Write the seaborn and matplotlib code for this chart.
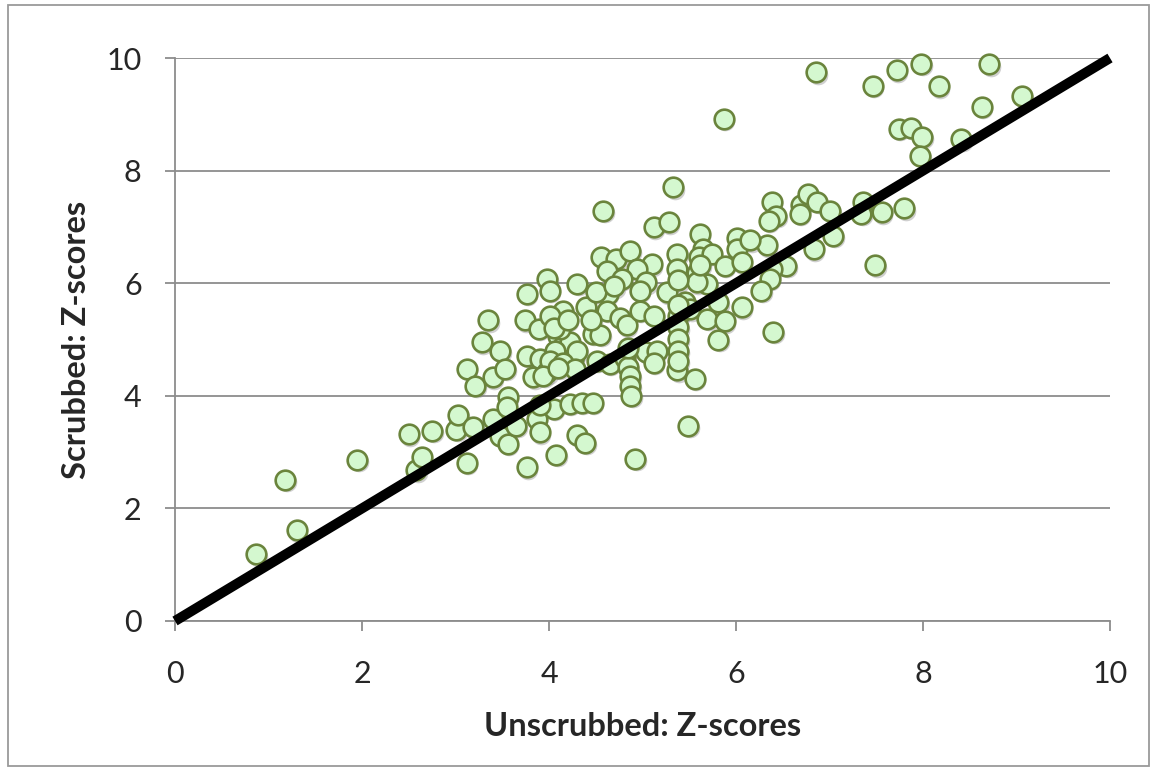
import matplotlib
matplotlib.use("Agg")
import matplotlib.pyplot as plt
import matplotlib.transforms as mtransforms
from matplotlib.patches import Rectangle
import seaborn as sns
import pandas as pd

# --- data ---
unscrubbed = [
    0.87, 1.18, 1.30, 1.95, 2.50, 2.58, 2.64, 2.75, 3.01, 3.03, 3.19, 3.12,
    3.35, 3.28, 3.48, 3.12, 3.21, 3.40, 3.53, 3.76, 3.98, 3.74, 3.89, 3.76,
    3.90, 3.83, 3.56, 3.76, 3.40, 3.48, 3.56, 3.65, 3.87, 3.90, 4.08,
    3.55, 4.05, 4.30, 4.10, 4.15, 4.22, 4.26, 4.06, 3.98,
    5.33, 4.58, 5.12, 5.28, 4.56, 4.72, 4.87, 5.10, 5.37, 5.37, 4.62, 4.94,
    4.78, 5.04, 4.30, 4.01, 4.63, 4.97, 5.26, 5.45, 4.40, 4.15, 4.01, 4.62,
    4.76, 4.83, 4.97, 5.12, 5.38, 5.38, 5.38, 5.38, 4.12, 4.47, 4.55, 4.30,
    4.01, 4.15, 4.28, 4.51, 4.65, 4.81, 4.85, 4.87, 4.87, 4.88, 5.04, 5.15,
    5.12, 5.37, 5.56, 3.94, 3.90, 4.22, 4.35, 4.47, 4.39, 4.92, 5.49,
    6.38, 6.43, 6.35, 6.70, 6.68, 6.77, 6.87, 7.01, 7.36, 7.34, 7.56, 7.80,
    6.33, 7.04, 6.83, 6.54, 7.49, 6.40, 5.61, 5.65, 5.60, 5.74, 5.88, 6.01,
    6.01, 6.15, 6.06, 5.58, 5.69, 5.58, 6.38, 6.36, 6.27, 5.81, 6.06, 5.69,
    5.88, 5.81, 5.51,
    6.86, 7.46, 7.72, 7.98, 8.17, 8.71, 8.63, 9.06, 7.74, 7.87, 7.99, 7.97,
    8.41, 5.87,
    4.85, 5.38, 5.38, 5.38, 5.62, 4.05, 4.20, 4.10, 4.50, 4.70, 4.45,
]
scrubbed = [
    1.19, 2.51, 1.61, 2.86, 3.32, 2.68, 2.92, 3.38, 3.40, 3.66, 3.44, 2.81,
    5.34, 4.95, 4.80, 4.48, 4.18, 4.33, 4.48, 5.81, 6.08, 5.34, 5.19, 4.71,
    4.65, 4.33, 3.97, 2.73, 3.59, 3.29, 3.15, 3.47, 3.59, 3.35, 2.95,
    3.80, 3.77, 3.30, 5.07, 4.89, 4.95, 4.65, 4.80, 4.42,
    7.70, 7.29, 6.99, 7.08, 6.46, 6.43, 6.58, 6.34, 6.52, 6.25, 6.22, 6.25,
    6.08, 6.02, 5.99, 5.87, 5.81, 5.87, 5.84, 5.66, 5.57, 5.51, 5.42, 5.51,
    5.39, 5.25, 5.51, 5.42, 5.42, 5.22, 5.01, 4.80, 5.19, 5.10, 5.08, 4.80,
    4.62, 4.59, 4.48, 4.62, 4.57, 4.68, 4.51, 4.36, 4.18, 4.00, 4.77, 4.80,
    4.59, 4.45, 4.30, 4.36, 3.83, 3.86, 3.88, 3.88, 3.17, 2.88, 3.47,
    7.45, 7.20, 7.11, 7.39, 7.23, 7.59, 7.45, 7.29, 7.44, 7.23, 7.26, 7.33,
    6.67, 6.84, 6.60, 6.31, 6.32, 5.14, 6.87, 6.61, 6.46, 6.52, 6.31, 6.81,
    6.61, 6.76, 6.37, 6.19, 5.99, 6.02, 6.25, 6.08, 5.87, 5.66, 5.57, 5.37,
    5.32, 5.00, 5.54,
    9.75, 9.51, 9.78, 9.90, 9.50, 9.89, 9.13, 9.32, 8.74, 8.76, 8.60, 8.26,
    8.56, 8.92,
    4.85, 4.62, 5.62, 6.05, 6.33, 5.20, 5.35, 4.50, 5.85, 5.95, 5.35,
]
diag_x = [0, 10]
diag_y = [0, 10]
ticks = [0, 2, 4, 6, 8, 10]

df = pd.DataFrame({"unscrubbed": unscrubbed, "scrubbed": scrubbed})
diag = pd.DataFrame({"x": diag_x, "y": diag_y})

sns.set_style("white")
plt.rcParams["font.family"] = ["Lato", "DejaVu Sans"]

grey = "#8c8c8c"
fig = plt.figure(figsize=(11.52, 7.71), dpi=100)
ax = fig.add_axes([175 / 1152, 1 - 621 / 771, 935 / 1152, 563 / 771])

# soft shadow under the markers
shadow = mtransforms.offset_copy(ax.transData, fig=fig, x=1.5, y=-2.5, units="dots")
sns.scatterplot(data=df, x="unscrubbed", y="scrubbed", ax=ax, s=200,
                color="#7a7a7a", alpha=0.35, linewidth=0, transform=shadow,
                zorder=2, legend=False, clip_on=False)
sns.scatterplot(data=df, x="unscrubbed", y="scrubbed", ax=ax, s=200,
                color="#d4f8cf", edgecolor="#6a843c", linewidth=1.9,
                zorder=3, legend=False, clip_on=False)
sns.lineplot(data=diag, x="x", y="y", ax=ax, color="black", linewidth=7.2,
             solid_capstyle="butt", zorder=4, clip_on=False)

ax.set_xlim(0, 10)
ax.set_ylim(0, 10)
ax.set_xticks(ticks)
ax.set_yticks(ticks)
ax.grid(axis="y", color=grey, linewidth=1.3)
ax.set_axisbelow(True)
for side in ["top", "right"]:
    ax.spines[side].set_visible(False)
for side in ["left", "bottom"]:
    ax.spines[side].set_color(grey)
    ax.spines[side].set_linewidth(1.3)
ax.tick_params(axis="x", direction="out", length=7, width=1.3, color=grey,
               labelsize=22, pad=21, bottom=True)
ax.tick_params(axis="y", direction="out", length=7, width=1.3, color=grey,
               labelsize=22, pad=17, left=True)

ax.set_xlabel("Unscrubbed: Z-scores", fontsize=23.5, fontweight="bold", labelpad=17)
ax.set_ylabel("Scrubbed: Z-scores", fontsize=23.5, fontweight="bold", labelpad=11)

# outer chart frame
fig.patches.append(Rectangle((8 / 1152, 5 / 771), 1141 / 1152, 761 / 771,
                             transform=fig.transFigure, fill=False,
                             edgecolor="#9a9a9a", linewidth=1.3))

fig.savefig("out.png", dpi=100)
